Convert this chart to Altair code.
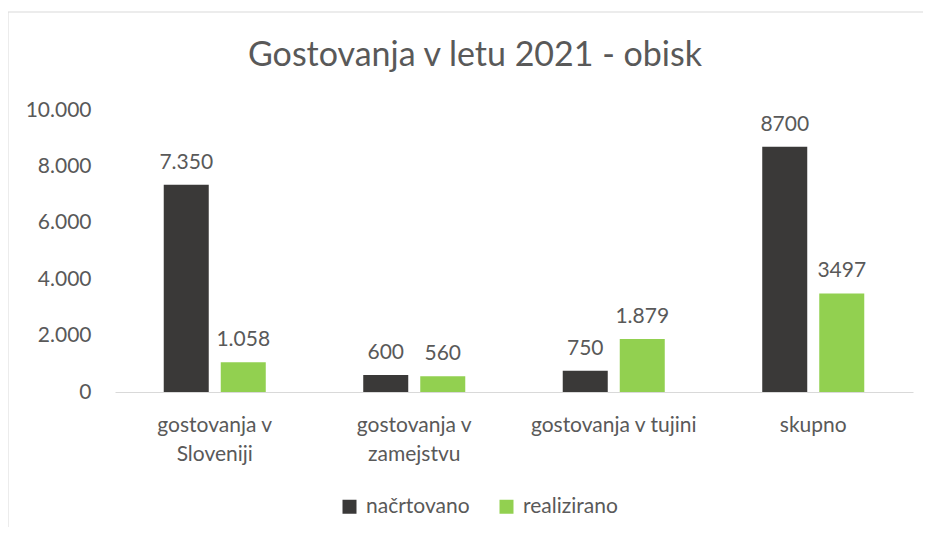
import altair as alt
import pandas as pd

categories = ["gostovanja v\nSloveniji", "gostovanja v\nzamejstvu", "gostovanja v tujini", "skupno"]
series = ["načrtovano", "realizirano"]
planned = [7350, 600, 750, 8700]
realized = [1058, 560, 1879, 3497]
planned_labels = ["7.350", "600", "750", "8700"]
realized_labels = ["1.058", "560", "1.879", "3497"]
colors = ["#3a3938", "#92d050"]

rows = []
for c, v, l in zip(categories, planned, planned_labels):
    rows.append({"cat": c, "series": series[0], "value": v, "label": l})
for c, v, l in zip(categories, realized, realized_labels):
    rows.append({"cat": c, "series": series[1], "value": v, "label": l})
df = pd.DataFrame(rows)

FONT = "Lato"
TXT = "#595959"

x = alt.X("cat:N", sort=categories, title=None,
          scale=alt.Scale(paddingInner=0, paddingOuter=0),
          axis=alt.Axis(labelExpr="split(datum.label, '\\n')", labelAngle=0,
                        ticks=False, domainColor="#d9d9d9", labelPadding=22,
                        labelLineHeight=29, labelFontSize=21, labelColor=TXT,
                        labelFont=FONT))
xo = alt.XOffset("series:N", sort=series,
                 scale=alt.Scale(paddingInner=0.2105, paddingOuter=0.855))
y = alt.Y("value:Q", title=None,
          scale=alt.Scale(domain=[0, 10000], nice=False),
          axis=alt.Axis(values=[0, 2000, 4000, 6000, 8000, 10000],
                        labelExpr="replace(format(datum.value, ','), ',', '.')",
                        domain=False, ticks=False, grid=False, labelPadding=24,
                        labelFontSize=21, labelColor=TXT, labelFont=FONT))

bars = alt.Chart(df).mark_bar().encode(
    x=x, xOffset=xo, y=y,
    color=alt.Color("series:N", sort=series,
                    scale=alt.Scale(domain=series, range=colors),
                    legend=alt.Legend(title=None, orient="none", direction="horizontal",
                                      legendX=224, legendY=386, symbolType="square",
                                      symbolSize=196, symbolStrokeWidth=0,
                                      labelFontSize=21, labelColor=TXT, labelFont=FONT,
                                      labelOffset=6, columnPadding=26, padding=0)),
)

texts = alt.Chart(df).mark_text(baseline="alphabetic", dy=-16, fontSize=21,
                                font=FONT, color=TXT).encode(
    x=x, xOffset=xo, y=y, text="label:N")

one = pd.DataFrame({"a": [0]})
left_border = alt.Chart(one).mark_rule(color="#d9d9d9", strokeWidth=1).encode(
    x=alt.value(-107), y=alt.value(-98), y2=alt.value(425))
top_border = alt.Chart(one).mark_rule(color="#d9d9d9", strokeWidth=1).encode(
    x=alt.value(-107), x2=alt.value(816), y=alt.value(-98))

chart = alt.layer(left_border, top_border, bars, texts).properties(
    width=798, height=282,
    title=alt.TitleParams("Gostovanja v letu 2021 - obisk", fontSize=34, font=FONT,
                          fontWeight="normal", color=TXT, anchor="middle", dx=-39,
                          baseline="alphabetic", offset=-88),
    autosize=alt.AutoSizeParams(type="none"),
    padding={"left": 107, "top": 102, "right": 10, "bottom": 135},
).configure(background="white").configure_view(stroke=None)

chart.save("out.html", embed_options={"renderer": "svg", "actions": False})
